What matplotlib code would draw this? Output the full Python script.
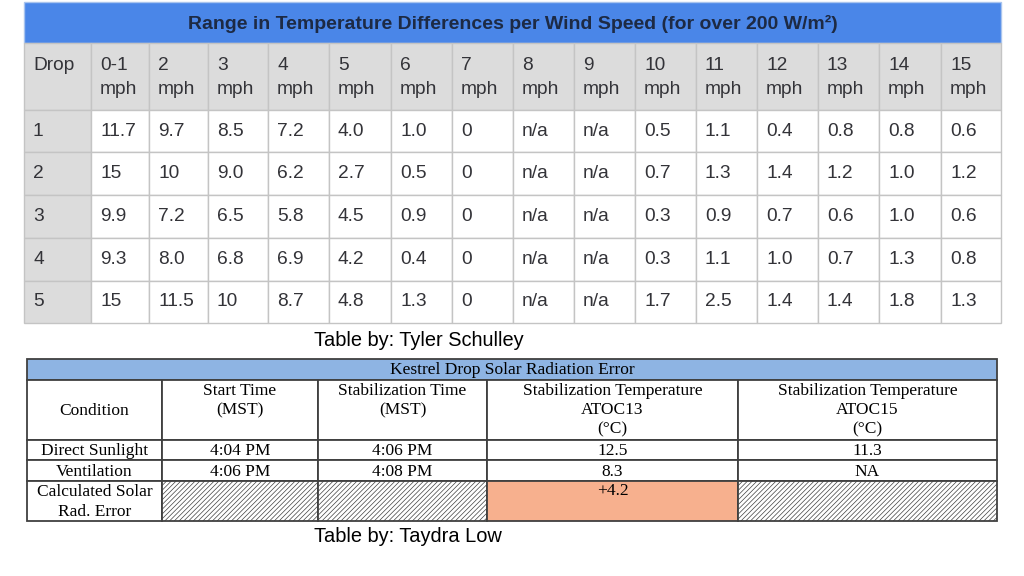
import matplotlib.pyplot as plt
from matplotlib.patches import Rectangle

# ---- data: wind speed table ----
top_title = "Range in Temperature Differences per Wind Speed (for over 200 W/m²)"
speeds = ["0-1", "2", "3", "4", "5", "6", "7", "8", "9", "10", "11", "12", "13", "14", "15"]
drops = ["1", "2", "3", "4", "5"]
drop1 = ["11.7", "9.7", "8.5", "7.2", "4.0", "1.0", "0", "n/a", "n/a", "0.5", "1.1", "0.4", "0.8", "0.8", "0.6"]
drop2 = ["15", "10", "9.0", "6.2", "2.7", "0.5", "0", "n/a", "n/a", "0.7", "1.3", "1.4", "1.2", "1.0", "1.2"]
drop3 = ["9.9", "7.2", "6.5", "5.8", "4.5", "0.9", "0", "n/a", "n/a", "0.3", "0.9", "0.7", "0.6", "1.0", "0.6"]
drop4 = ["9.3", "8.0", "6.8", "6.9", "4.2", "0.4", "0", "n/a", "n/a", "0.3", "1.1", "1.0", "0.7", "1.3", "0.8"]
drop5 = ["15", "11.5", "10", "8.7", "4.8", "1.3", "0", "n/a", "n/a", "1.7", "2.5", "1.4", "1.4", "1.8", "1.3"]
top_caption = "Table by: Tyler Schulley"

# ---- data: solar radiation table ----
bottom_title = "Kestrel Drop Solar Radiation Error"
bottom_headers = ["Condition", "Start Time\n(MST)", "Stabilization Time\n(MST)",
                  "Stabilization Temperature\nATOC13\n(°C)", "Stabilization Temperature\nATOC15\n(°C)"]
conditions = ["Direct Sunlight", "Ventilation", "Calculated Solar\nRad. Error"]
start_times = ["4:04 PM", "4:06 PM", None]
stab_times = ["4:06 PM", "4:08 PM", None]
atoc13 = ["12.5", "8.3", "+4.2"]
atoc15 = ["11.3", "NA", None]
bottom_caption = "Table by: Taydra Low"

plt.rcParams["hatch.linewidth"] = 0.5

fig = plt.figure(figsize=(10.24, 5.76), dpi=100)
ax = fig.add_axes([0, 0, 1, 1])
ax.set_xlim(0, 1024)
ax.set_ylim(576, 0)
ax.axis("off")

sans = "Liberation Sans"
serif = "Liberation Serif"
txt_col = "#333338"
fs_top = 13.8
fs_bot = 12.5

# ---- top table layout ----
cx = [24, 91, 149, 208, 268, 329, 391, 452, 513, 574, 635, 696, 757, 818, 879, 941, 1001]
ry = [2, 43, 110, 152, 195, 238, 281, 323]
grid_col = "#c4c4c4"

ax.add_patch(Rectangle((cx[0], ry[0]), cx[-1] - cx[0], ry[1] - ry[0],
                       facecolor="#4a86e8", edgecolor="#a9c4ee", lw=1))
ax.text((cx[0] + cx[-1]) / 2, (ry[0] + ry[1]) / 2 + 1, top_title, fontsize=14,
        fontweight="bold", color="#1d2a44", ha="center", va="center", family=sans)

rows = [drop1, drop2, drop3, drop4, drop5]
for j in range(len(cx) - 1):
    for i in range(1, len(ry) - 1):
        gray = (i == 1) or (j == 0)
        ax.add_patch(Rectangle((cx[j], ry[i]), cx[j + 1] - cx[j], ry[i + 1] - ry[i],
                               facecolor="#dcdcdc" if gray else "white",
                               edgecolor=grid_col, lw=1))

pad = 9
ax.text(cx[0] + pad, 66, "Drop", fontsize=fs_top, color=txt_col, va="center", family=sans)
for j, s in enumerate(speeds):
    ax.text(cx[j + 1] + pad, 66, s, fontsize=fs_top, color=txt_col, va="center", family=sans)
    ax.text(cx[j + 1] + pad, 89, "mph", fontsize=fs_top, color=txt_col, va="center", family=sans)

for i, (d, vals) in enumerate(zip(drops, rows)):
    yc = (ry[i + 2] + ry[i + 3]) / 2
    ax.text(cx[0] + pad, yc, d, fontsize=fs_top, color=txt_col, va="center", family=sans)
    for j, v in enumerate(vals):
        ax.text(cx[j + 1] + pad, yc, v, fontsize=fs_top, color=txt_col, va="center", family=sans)

ax.text(314, 340, top_caption, fontsize=14.4, color="black", va="center", family=sans)

# ---- bottom table layout ----
bx = [27, 162, 318, 487, 738, 997]
by = [359, 380, 440, 460, 481, 521]
line_col = "#404040"

ax.add_patch(Rectangle((bx[0], by[0]), bx[-1] - bx[0], by[1] - by[0],
                       facecolor="#8eb4e3", edgecolor=line_col, lw=1.3))
ax.text((bx[0] + bx[-1]) / 2, (by[0] + by[1]) / 2 + 1, bottom_title, fontsize=fs_bot,
        color="black", ha="center", va="center", family=serif)

for j, h in enumerate(bottom_headers):
    ax.add_patch(Rectangle((bx[j], by[1]), bx[j + 1] - bx[j], by[2] - by[1],
                           facecolor="white", edgecolor=line_col, lw=1.3))
    if "\n" in h:
        ax.text((bx[j] + bx[j + 1]) / 2, by[1] + 3, h, fontsize=fs_bot,
                color="black", ha="center", va="top", family=serif, linespacing=1.27)
    else:
        ax.text((bx[j] + bx[j + 1]) / 2, (by[1] + by[2]) / 2 + 1, h, fontsize=fs_bot,
                color="black", ha="center", va="center", family=serif)

cols = [conditions, start_times, stab_times, atoc13, atoc15]
for i in range(3):
    y0, y1 = by[i + 2], by[i + 3]
    for j, col in enumerate(cols):
        v = col[i]
        if v is None:
            ax.add_patch(Rectangle((bx[j], y0), bx[j + 1] - bx[j], y1 - y0,
                                   facecolor="white", edgecolor=line_col, lw=1.3,
                                   hatch="///////"))
            continue
        face = "#f7b08e" if v.startswith("+") else "white"
        ax.add_patch(Rectangle((bx[j], y0), bx[j + 1] - bx[j], y1 - y0,
                               facecolor=face, edgecolor=line_col, lw=1.3))
        if v.startswith("+"):
            ax.text((bx[j] + bx[j + 1]) / 2, y0 + 10, v, fontsize=fs_bot, color="black",
                    ha="center", va="center", family=serif)
        else:
            ax.text((bx[j] + bx[j + 1]) / 2, (y0 + y1) / 2 + 1, v, fontsize=fs_bot,
                    color="black", ha="center", va="center", family=serif, linespacing=1.3)

ax.text(314, 536, bottom_caption, fontsize=14.4, color="black", va="center", family=sans)

fig.savefig("out.png", dpi=100, facecolor="white")
